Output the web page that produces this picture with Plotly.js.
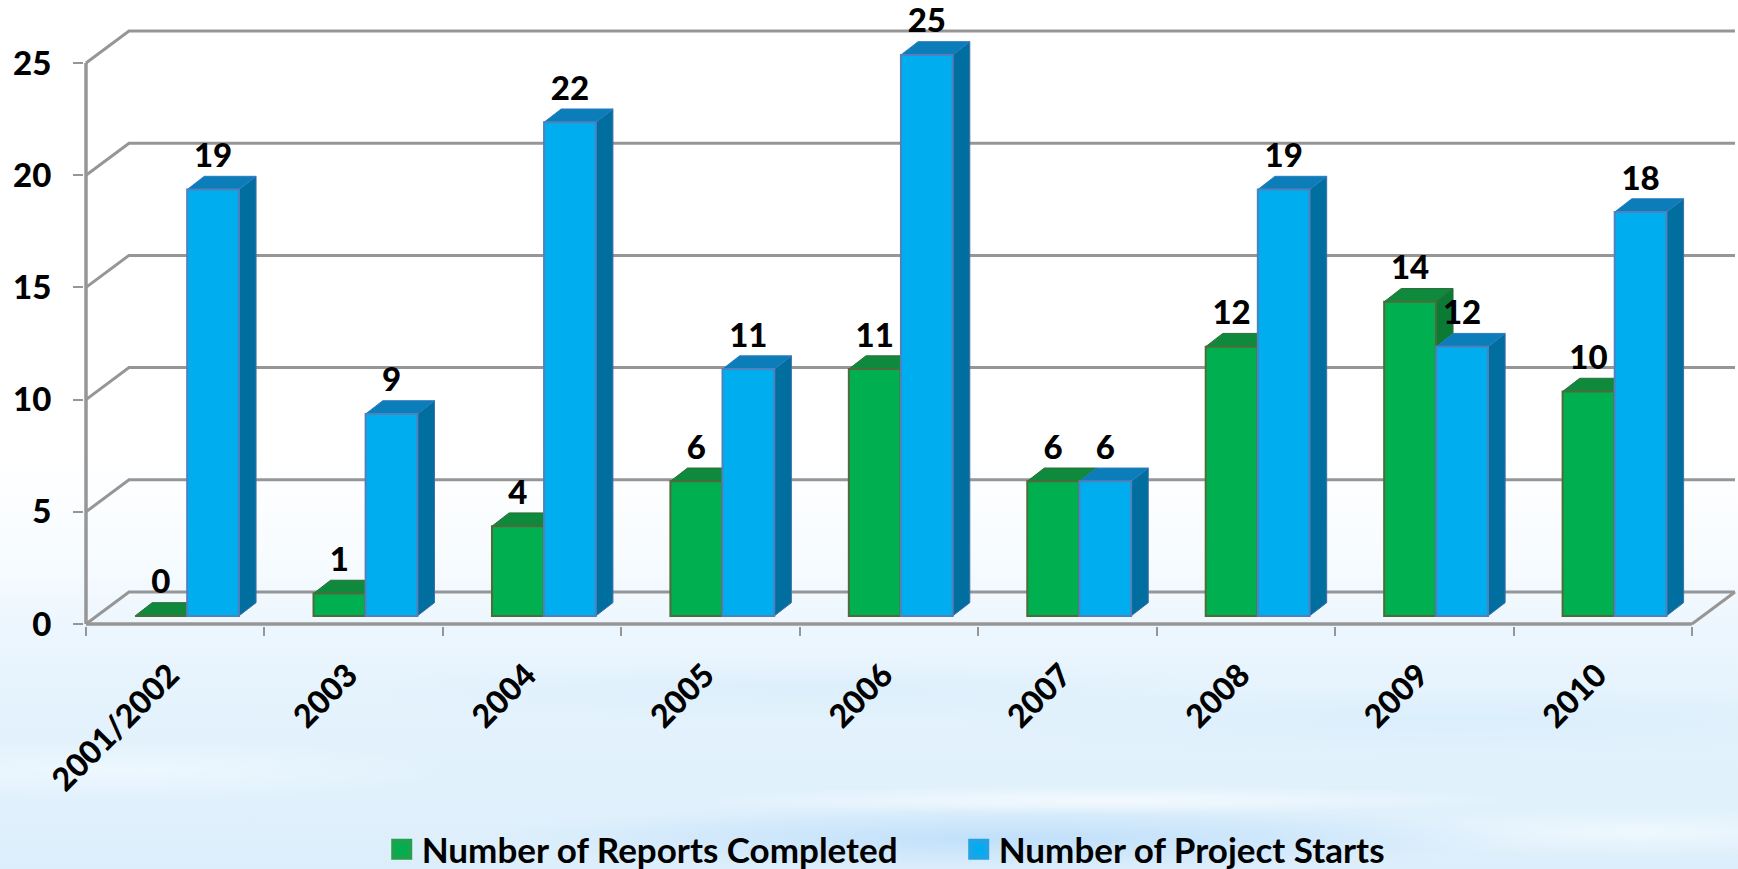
<!DOCTYPE html>
<html>
<head>
<meta charset="utf-8">
<script src="https://cdn.plot.ly/plotly-3.0.1.min.js"></script>
<style>
html,body{margin:0;padding:0;width:1738px;height:869px;overflow:hidden;}
body{background:
 radial-gradient(ellipse 420px 14px at 1110px 800px, rgba(255,255,255,.6), rgba(255,255,255,0)),
 radial-gradient(ellipse 520px 32px at 1010px 838px, rgba(185,220,250,.8), rgba(185,220,250,0)),
 radial-gradient(ellipse 300px 26px at 1640px 832px, rgba(245,251,255,.7), rgba(245,251,255,0)),
 radial-gradient(ellipse 330px 30px at 120px 770px, rgba(242,250,255,.7), rgba(242,250,255,0)),
 radial-gradient(ellipse 500px 36px at 1450px 720px, rgba(205,232,250,.4), rgba(205,232,250,0)),
 radial-gradient(ellipse 480px 30px at 800px 690px, rgba(208,233,250,.45), rgba(208,233,250,0)),
 linear-gradient(180deg,#ffffff 0px,#ffffff 450px,#f8fcff 550px,#ecf6fe 630px,#e3f2fc 720px,#e1f1fc 790px,#dceefb 869px);}
#chart{width:1738px;height:869px;}
</style>
</head>
<body>
<div id="chart"></div>
<script>
var categories = ["2001/2002","2003","2004","2005","2006","2007","2008","2009","2010"];
var reports = [0,1,4,6,11,6,12,14,10];
var starts = [19,9,22,11,25,6,19,12,18];
var yTicks = [0,5,10,15,20,25];
var reportsName = "Number of Reports Completed";
var startsName = "Number of Project Starts";

var FONT = "Lato, 'Open Sans', sans-serif";
var idx = categories.map(function(_,i){return i;});
var bounds = categories.map(function(_,i){return i-0.5;}).concat([categories.length-0.5]);

// projection constants in data units
var WALL_DX = 0.241, WALL_DY = 1.426;
var BAR_DX = 0.096, BAR_DY = 0.59;
var BASE = 0.36, BAR_W = 0.29;
var OFF_G = -0.08, OFF_B = 0.212;
var LABEL_UP = 1.37;
var TICK_SHIFT = -0.03;
var Y_MAX = 25;

function faces(vals, off){
  var side={x:[],y:[]}, top={x:[],y:[]};
  vals.forEach(function(v,i){
    var l=i+off-BAR_W/2, r=i+off+BAR_W/2, y1=BASE+v;
    side.x.push(r,r+BAR_DX,r+BAR_DX,r,r,null);
    side.y.push(BASE,BASE+BAR_DY,y1+BAR_DY,y1,BASE,null);
    top.x.push(l,l+BAR_DX,r+BAR_DX,r,l,null);
    top.y.push(y1,y1+BAR_DY,y1+BAR_DY,y1,y1,null);
  });
  return {side:side,top:top};
}
function poly(f,color,line,ya){
  return {type:'scatter',mode:'lines',x:f.x,y:f.y,fill:'toself',fillcolor:color,
    line:{color:line,width:1},yaxis:ya,showlegend:false,hoverinfo:'skip'};
}
var xL=-0.5, xR=categories.length-0.5;
var gx=[],gy=[];
yTicks.forEach(function(v){
  gx.push(xL,xL+WALL_DX,xR+WALL_DX,null);
  gy.push(v,v+WALL_DY,v+WALL_DY,null);
});
gx.push(xR,xR+WALL_DX,null); gy.push(0,WALL_DY,null);
var axX=[xL,xL,null,xL,xR], axY=[Y_MAX,0,null,0,0];

var G=faces(reports,OFF_G), B=faces(starts,OFF_B);
var labelFont={family:FONT,size:33,color:'#000',weight:900};
var xLabelFont={family:FONT,size:32,color:'#000',weight:900};

var traces=[
 {type:'scatter',mode:'lines',x:gx,y:gy,line:{color:'#969696',width:3},showlegend:false,hoverinfo:'skip'},
 {type:'scatter',mode:'lines',x:axX,y:axY,line:{color:'#969696',width:3.5},showlegend:false,hoverinfo:'skip'},
 poly(G.side,'#0A7A35','#2f6b3a','y'),
 poly(G.top,'#0F8A3C','#2f6b3a','y'),
 {type:'bar',x:idx.map(function(i){return i+OFF_G;}),y:reports,base:BASE,width:BAR_W,yaxis:'y2',
  marker:{color:'#00B050',line:{color:'#4f6b3a',width:2}},showlegend:false,name:reportsName},
 poly(B.side,'#006F9F','#3f6fa8','y2'),
 poly(B.top,'#0B7DB8','#2b7cc4','y2'),
 {type:'bar',x:idx.map(function(i){return i+OFF_B;}),y:starts,base:BASE,width:BAR_W,yaxis:'y3',
  marker:{color:'#00AEEF',line:{color:'#4F81BD',width:2}},showlegend:false,name:startsName},
 {type:'scatter',mode:'text',x:idx.map(function(i){return i+OFF_G;}),y:reports.map(function(v){return v+BASE+LABEL_UP;}),
  text:reports.map(String),textposition:'middle center',textfont:labelFont,
  yaxis:'y3',showlegend:false,hoverinfo:'skip'},
 {type:'scatter',mode:'text',x:idx.map(function(i){return i+OFF_B;}),y:starts.map(function(v){return v+BASE+LABEL_UP;}),
  text:starts.map(String),textposition:'middle center',textfont:labelFont,
  yaxis:'y3',showlegend:false,hoverinfo:'skip'},
 // legend keys
 {type:'scatter',mode:'markers',x:[null],y:[null],name:reportsName,yaxis:'y3',
  marker:{symbol:'square',size:16,color:'#00B050',line:{color:'#1fa24c',width:5}}},
 {type:'scatter',mode:'markers',x:[null],y:[null],name:startsName,yaxis:'y3',
  marker:{symbol:'square',size:16,color:'#00AEEF',line:{color:'#1fa3e6',width:5}}}
];

var yRange=[-0.0891,27.807];
var hiddenY={range:yRange,overlaying:'y',visible:false,fixedrange:true};
var layout={
 width:1738,height:869,autosize:false,
 paper_bgcolor:'rgba(0,0,0,0)',plot_bgcolor:'rgba(0,0,0,0)',
 margin:{l:84,r:0,t:0,b:243,pad:0,autoexpand:false},
 barmode:'overlay',
 font:{family:FONT,color:'#000'},
 xaxis:{range:[-0.5112,8.758],tickmode:'array',tickvals:idx.map(function(i){return i+TICK_SHIFT;}),ticktext:categories,tickangle:-45,ticks:'',
   ticklabelstandoff:23,automargin:false,
   tickfont:xLabelFont,
   showgrid:false,zeroline:false,showline:false,
   minor:{tickmode:'array',tickvals:bounds,ticks:'outside',ticklen:9,tickwidth:2,tickcolor:'#969696',showgrid:false}},
 yaxis:{range:yRange,tickmode:'array',tickvals:yTicks,ticks:'outside',ticklen:10,tickwidth:2,tickcolor:'#969696',
   ticklabelstandoff:15,automargin:false,
   tickfont:labelFont,
   showgrid:false,zeroline:false,showline:false},
 yaxis2:hiddenY,
 yaxis3:hiddenY,
 showlegend:true,
 legend:{orientation:'h',x:0.18,xref:'paper',xanchor:'left',y:-0.31,yanchor:'top',
   itemsizing:'trace',entrywidth:532,entrywidthmode:'pixels',traceorder:'normal',
   bgcolor:'rgba(0,0,0,0)',font:{family:FONT,size:35,color:'#000',weight:700}}
};
Plotly.newPlot('chart',traces,layout,{displayModeBar:false,responsive:false});
</script>
</body>
</html>
